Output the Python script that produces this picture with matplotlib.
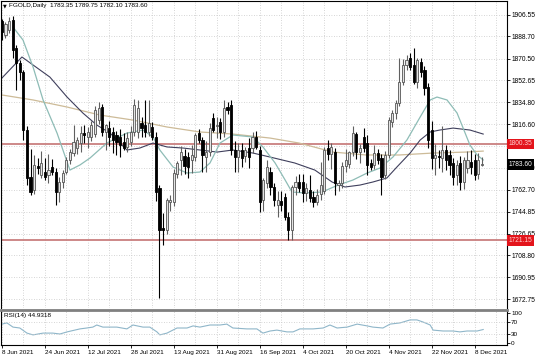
import matplotlib
matplotlib.use("Agg")
import matplotlib.pyplot as plt
import numpy as np

# daily candles, 8 Jun 2021 .. 10 Dec 2021 (one per trading day)
opens = [1901.4, 1889.9, 1894.0, 1902.2, 1879.2, 1866.8, 1859.5, 1811.8, 1773.2, 1762.5,
         1782.2, 1774.8, 1777.3, 1774.8, 1781.4, 1777.3, 1760.9, 1769.1, 1777.3, 1787.2,
         1792.9, 1797.0, 1801.1, 1809.3, 1806.1, 1806.1, 1808.5, 1820.0, 1830.7, 1810.2,
         1813.4, 1810.2, 1807.7, 1806.1, 1801.9, 1797.9, 1801.9, 1810.2, 1810.2, 1817.6,
         1815.9, 1810.2, 1814.3, 1806.1, 1764.2, 1731.3, 1729.7, 1752.7, 1752.7, 1775.7,
         1787.2, 1790.4, 1789.6, 1787.2, 1789.6, 1809.3, 1803.6, 1789.6, 1793.7, 1821.7,
         1815.1, 1818.4, 1810.2, 1830.7, 1832.3, 1795.4, 1789.6, 1795.4, 1790.4, 1797.0,
         1797.0, 1806.1, 1795.4, 1754.3, 1768.3, 1777.3, 1765.0, 1750.2, 1753.5, 1756.8,
         1740.3, 1729.7, 1765.0, 1769.1, 1769.1, 1760.1, 1762.5, 1756.8, 1752.7, 1759.2,
         1761.7, 1797.0, 1792.1, 1793.7, 1766.6, 1768.3, 1782.2, 1783.9, 1793.7, 1808.5,
         1793.7, 1806.1, 1801.1, 1784.7, 1783.1, 1792.9, 1788.8, 1774.8, 1791.3, 1818.4,
         1825.8, 1834.0, 1851.2, 1865.2, 1871.0, 1865.2, 1851.2, 1867.7, 1861.1, 1847.1,
         1811.8, 1788.8, 1790.4, 1788.8, 1795.4, 1791.3, 1784.7, 1774.8, 1784.7, 1769.1,
         1780.6, 1785.5, 1787.2, 1775.7, 1783.35]
highs = [1903.0, 1900.5, 1904.6, 1905.4, 1881.7, 1869.3, 1861.1, 1815.1, 1796.2, 1791.3,
         1788.8, 1794.5, 1788.8, 1792.1, 1788.0, 1780.6, 1773.2, 1778.9, 1789.6, 1796.2,
         1815.9, 1806.1, 1815.1, 1815.9, 1814.3, 1819.2, 1831.5, 1834.8, 1833.2, 1816.8,
         1819.2, 1814.3, 1811.0, 1812.6, 1809.3, 1810.2, 1815.1, 1837.3, 1836.5, 1822.5,
         1836.5, 1836.5, 1818.4, 1810.2, 1766.6, 1743.6, 1756.0, 1758.4, 1779.7, 1786.3,
         1798.7, 1796.2, 1793.7, 1799.5, 1809.3, 1812.6, 1806.1, 1802.7, 1817.6, 1825.8,
         1822.5, 1821.7, 1836.5, 1834.8, 1836.5, 1802.7, 1801.1, 1801.1, 1797.9, 1805.2,
         1810.2, 1811.0, 1798.7, 1772.4, 1787.2, 1781.4, 1768.3, 1761.7, 1761.7, 1760.1,
         1744.4, 1766.6, 1774.0, 1775.7, 1775.7, 1768.3, 1774.8, 1761.7, 1763.4, 1785.5,
         1797.9, 1803.6, 1801.1, 1797.0, 1770.7, 1785.5, 1796.2, 1794.5, 1815.1, 1810.2,
         1800.3, 1813.4, 1807.7, 1788.0, 1799.5, 1796.2, 1792.1, 1794.5, 1822.5, 1828.2,
         1836.5, 1871.0, 1870.2, 1873.4, 1875.1, 1879.2, 1871.0, 1871.0, 1864.4, 1850.4,
         1819.2, 1800.3, 1795.4, 1815.1, 1799.5, 1795.4, 1788.8, 1787.2, 1790.4, 1789.6,
         1794.5, 1795.4, 1792.1, 1792.9, 1789.75]
lows = [1885.7, 1887.4, 1891.5, 1871.0, 1844.7, 1852.9, 1803.6, 1766.6, 1758.4, 1759.2,
        1775.7, 1772.4, 1770.7, 1768.3, 1774.8, 1750.2, 1752.7, 1764.2, 1775.7, 1783.9,
        1790.4, 1792.1, 1793.7, 1801.1, 1797.0, 1802.7, 1806.1, 1816.8, 1806.9, 1795.4,
        1798.7, 1792.9, 1791.3, 1789.6, 1795.4, 1793.7, 1798.7, 1806.9, 1805.2, 1806.1,
        1806.1, 1806.9, 1803.6, 1753.5, 1674.0, 1717.3, 1726.4, 1745.0, 1749.4, 1772.4,
        1774.8, 1775.7, 1772.4, 1776.5, 1786.3, 1801.1, 1777.3, 1777.3, 1790.4, 1810.2,
        1805.2, 1804.4, 1806.1, 1825.0, 1791.3, 1777.3, 1777.3, 1781.4, 1785.5, 1780.6,
        1792.9, 1796.2, 1744.4, 1745.2, 1764.2, 1758.4, 1749.4, 1740.3, 1745.0, 1737.9,
        1721.4, 1721.4, 1758.4, 1760.9, 1752.7, 1753.5, 1752.7, 1748.6, 1750.2, 1754.3,
        1759.2, 1787.2, 1779.7, 1758.4, 1761.7, 1764.2, 1777.3, 1780.6, 1790.4, 1788.0,
        1784.7, 1793.7, 1774.8, 1778.9, 1779.7, 1783.9, 1758.4, 1771.5, 1788.8, 1814.3,
        1820.9, 1831.5, 1848.8, 1861.1, 1861.1, 1849.6, 1846.3, 1855.3, 1840.6, 1797.0,
        1779.7, 1774.8, 1780.6, 1777.3, 1778.9, 1774.8, 1766.6, 1766.6, 1762.5, 1763.4,
        1776.5, 1775.7, 1770.7, 1771.5, 1782.10]
closes = [1892.3, 1899.0, 1901.4, 1877.5, 1866.8, 1859.5, 1811.8, 1772.4, 1760.9, 1783.1,
          1780.6, 1784.7, 1773.2, 1778.9, 1777.3, 1760.9, 1769.1, 1776.5, 1787.2, 1793.7,
          1801.9, 1803.6, 1809.3, 1807.7, 1810.2, 1815.9, 1828.2, 1829.9, 1810.2, 1815.9,
          1806.1, 1803.6, 1801.9, 1799.5, 1797.0, 1805.2, 1810.2, 1832.3, 1829.9, 1813.4,
          1810.2, 1817.6, 1806.1, 1760.9, 1729.7, 1729.7, 1754.3, 1754.3, 1776.5, 1784.7,
          1793.7, 1782.2, 1781.4, 1791.3, 1807.7, 1803.6, 1791.3, 1793.7, 1813.4, 1811.8,
          1815.9, 1810.2, 1829.9, 1828.2, 1795.4, 1789.6, 1795.4, 1788.8, 1795.4, 1789.6,
          1806.1, 1797.9, 1752.7, 1770.7, 1781.4, 1765.0, 1754.3, 1754.3, 1750.2, 1740.3,
          1729.7, 1765.0, 1769.1, 1764.2, 1760.1, 1764.2, 1755.9, 1752.7, 1758.4, 1766.6,
          1795.4, 1792.1, 1797.9, 1768.3, 1768.3, 1782.2, 1787.2, 1793.7, 1809.3, 1793.7,
          1797.0, 1797.0, 1783.1, 1781.4, 1792.9, 1787.2, 1773.2, 1791.3, 1820.0, 1825.8,
          1834.0, 1851.2, 1865.2, 1869.3, 1863.6, 1851.2, 1869.3, 1859.5, 1846.3, 1803.6,
          1788.8, 1791.3, 1789.6, 1795.4, 1787.2, 1783.1, 1773.2, 1783.1, 1769.1, 1787.2,
          1787.2, 1781.4, 1774.8, 1787.2, 1783.60]

# moving averages (bar position, price)
fast_x = [3.1, 5.9, 8.7, 11.5, 15.4, 19.0, 21.8, 24.6, 29.3, 34.9, 39.4, 42.2, 44.1, 47.8,
          51.7, 55.3, 58.1, 60.9, 64.5, 70.1, 72.9, 76.3, 79.1, 81.0, 84.6, 89.4, 93.9,
          98.0, 102.0, 105.6, 109.2, 113.1, 116.8, 119.6, 121.5, 124.3, 127.1, 128.8,
          130.7, 132.7, 134.4]
fast_ma = [1896.4, 1885.7, 1863.6, 1836.5, 1809.3, 1778.9, 1783.1, 1788.8, 1801.1, 1809.3,
           1811.8, 1806.1, 1795.4, 1781.4, 1776.5, 1777.3, 1784.7, 1801.1, 1807.7, 1806.1,
           1797.9, 1784.7, 1770.7, 1760.9, 1760.1, 1760.9, 1766.6, 1770.7, 1776.5, 1780.6,
           1789.6, 1803.6, 1822.5, 1836.5, 1838.9, 1836.5, 1825.8, 1813.4, 1799.5, 1791.3,
           1787.2]
mid_x = [0.0, 5.6, 13.4, 18.2, 22.6, 26.5, 30.2, 34.9, 38.5, 42.2, 46.1, 50.6, 55.3, 60.1,
         64.5, 70.1, 74.9, 81.8, 87.4, 92.2, 95.8, 100.0, 103.6, 107.5, 110.3, 114.0,
         116.8, 119.6, 122.3, 126.0, 130.7, 134.4]
mid_ma = [1854.5, 1871.8, 1855.3, 1838.9, 1825.8, 1815.9, 1809.3, 1795.4, 1797.0, 1801.1,
          1797.9, 1797.0, 1795.4, 1793.7, 1795.4, 1792.9, 1789.6, 1784.7, 1778.9, 1769.1,
          1765.0, 1766.6, 1769.1, 1772.4, 1781.4, 1792.9, 1803.6, 1810.2, 1811.8, 1813.4,
          1811.8, 1808.5]
slow_x = [0.0, 8.7, 18.2, 27.4, 36.6, 46.1, 55.3, 64.5, 74.9, 83.0, 92.5, 101.7, 110.9,
          120.4, 129.6, 134.4]
slow_ma = [1840.6, 1836.5, 1830.7, 1824.1, 1820.0, 1814.3, 1810.2, 1808.5, 1805.2, 1801.1,
           1793.7, 1791.3, 1791.3, 1792.9, 1793.7, 1794.5]

# RSI(14)
rsi_x = [0, 1.4, 3.1, 5, 7, 8.7, 11.5, 14.2, 16.2, 18.2, 21.8, 23.7, 25.4, 26.5, 28.2, 32.1,
         34.9, 36.6, 39.4, 41.3, 43.3, 44.1, 46.1, 48.9, 51.7, 53.4, 55.3, 58.1, 60.9, 62.8,
         64.5, 68.4, 71.2, 72.9, 74.9, 76.8, 79.6, 81.3, 83.2, 86.9, 89.7, 91.6, 93.6, 96.4,
         99.2, 102, 103.6, 106.4, 108.4, 111.2, 114, 115.9, 117.6, 119.6, 120.4, 123.2, 126,
         127.9, 129.9, 132.7, 134.4]
rsi = [63, 67, 53, 50, 33, 27, 33, 33, 30, 37, 47, 50, 53, 60, 53, 53, 47, 60, 53, 53, 37,
       27, 33, 50, 50, 57, 53, 60, 60, 63, 50, 47, 47, 33, 40, 43, 37, 37, 47, 47, 50, 60,
       50, 53, 63, 57, 53, 50, 63, 67, 77, 77, 70, 60, 43, 40, 40, 37, 40, 40, 44.9]

price_ticks = [1906.55, 1888.70, 1870.50, 1852.65, 1834.80, 1816.60, 1798.75, 1780.90,
               1762.70, 1744.85, 1726.65, 1708.80, 1690.95, 1672.75]
hidden_tick = 1798.75  # sits under the 1800.35 tag
levels = [1800.35, 1721.15]
last_price = 1783.60
date_labels = ["8 Jun 2021", "24 Jun 2021", "12 Jul 2021", "28 Jul 2021", "13 Aug 2021",
               "31 Aug 2021", "16 Sep 2021", "4 Oct 2021", "20 Oct 2021", "4 Nov 2021",
               "22 Nov 2021", "8 Dec 2021"]

W, H = 536, 359
fig = plt.figure(figsize=(W / 100, H / 100), dpi=100)
plt.rcParams['font.family'] = ['Liberation Sans', 'DejaVu Sans']

grid_kw = dict(color="#c8c8c8", linestyle=(0, (1, 2)), linewidth=0.6)
xmin, xmax = -0.25, 141.05

ax = fig.add_axes([1 / W, 1 - 308 / H, 506 / W, 307 / H])
rx = fig.add_axes([1 / W, 1 - 345 / H, 506 / W, 34 / H])

x = np.arange(len(opens))
o = np.array(opens)
c = np.array(closes)
up = c >= o

# wicks then bodies
ax.vlines(x[up], np.array(lows)[up], np.array(highs)[up], color="#606060", lw=0.8, zorder=3)
ax.vlines(x[~up], np.array(lows)[~up], np.array(highs)[~up], color="#000000", lw=0.8, zorder=3)
ax.bar(x[up], np.maximum(c[up] - o[up], 0.3), bottom=o[up], width=0.6,
       color="#e4e4e4", edgecolor="#555555", linewidth=0.6, zorder=4)
ax.bar(x[~up], o[~up] - c[~up], bottom=c[~up], width=0.6,
       color="#000000", edgecolor="#000000", linewidth=0.6, zorder=4)

ax.plot(slow_x, slow_ma, color="#cdbb98", lw=0.9, zorder=2)
ax.plot(mid_x, mid_ma, color="#3f3f5c", lw=0.8, zorder=2)
ax.plot(fast_x, fast_ma, color="#8ebcb6", lw=0.9, zorder=2)

for lv in levels:
    ax.axhline(lv, color="#c97f7f", lw=1.3, zorder=1)

ax.set_xlim(xmin, xmax)
ax.set_ylim(1665.6, 1917.8)
ax.set_xticks(np.arange(0, 141, 6))
ax.tick_params(axis="x", length=0, labelbottom=False)
ax.yaxis.tick_right()
ax.set_yticks(price_ticks)
ax.set_yticklabels(["" if t == hidden_tick else f"{t:.2f}" for t in price_ticks])
ax.tick_params(axis="y", length=2, width=0.6, pad=1, labelsize=4.8, colors="#000000")
ax.grid(True, **grid_kw)
ax.set_axisbelow(True)
for s in ["left", "top", "right"]:
    ax.spines[s].set_linewidth(0.8)
ax.spines["bottom"].set_visible(False)

# price tags on the right scale
ytr = ax.get_yaxis_transform()
for lv in levels:
    ax.text(1.003, lv, f"{lv:.2f}", transform=ytr, ha="left", va="center", fontsize=4.8,
            color="#ffd0d0", zorder=10, clip_on=False,
            bbox=dict(boxstyle="square,pad=0.25", fc="#e3141b", ec="none"))
ax.text(1.003, last_price, f"{last_price:.2f}", transform=ytr, ha="left", va="center",
        fontsize=4.8, color="#ffffff", zorder=10, clip_on=False,
        bbox=dict(boxstyle="square,pad=0.25", fc="#000000", ec="none"))

fig.text(3 / W, 1 - 5.5 / H, "\u25bc", fontsize=3.5, va="center", ha="left",
         family="DejaVu Sans")
fig.text(9 / W, 1 - 5.5 / H, "FGOLD,Daily  1783.35 1789.75 1782.10 1783.60",
         fontsize=4.6, va="center", ha="left")

# separator between panes
fig.add_artist(plt.Line2D([1 / W, 507 / W], [1 - 309.5 / H] * 2, color="#808080", lw=2.0))

# RSI pane
rx.plot(rsi_x, rsi, color="#8fb6c9", lw=0.8)
rx.set_xlim(xmin, xmax)
rx.set_ylim(-6.7, 106.7)
rx.set_xticks(np.arange(0, 133, 12))
rx.set_xticklabels(date_labels, ha="left")
rx.set_xticks(np.arange(0, 141, 6), minor=True)
rx.tick_params(axis="x", which="major", length=2, width=0.6, pad=1.5, labelsize=4.6)
rx.tick_params(axis="x", which="minor", length=0)
rx.yaxis.tick_right()
rx.set_yticks([100, 70, 30, 0])
rx.tick_params(axis="y", length=2, width=0.6, pad=1, labelsize=4.6)
rx.grid(True, axis="x", which="both", **grid_kw)
for lv in [70, 30]:
    rx.axhline(lv, **grid_kw)
rx.spines["top"].set_visible(False)
for s in ["left", "bottom", "right"]:
    rx.spines[s].set_linewidth(0.8)
rx.text(3 / 506, 0.93, "RSI(14) 44.9318", transform=rx.transAxes, fontsize=4.6,
        va="top", ha="left")

fig.savefig("out.png", dpi=100)
